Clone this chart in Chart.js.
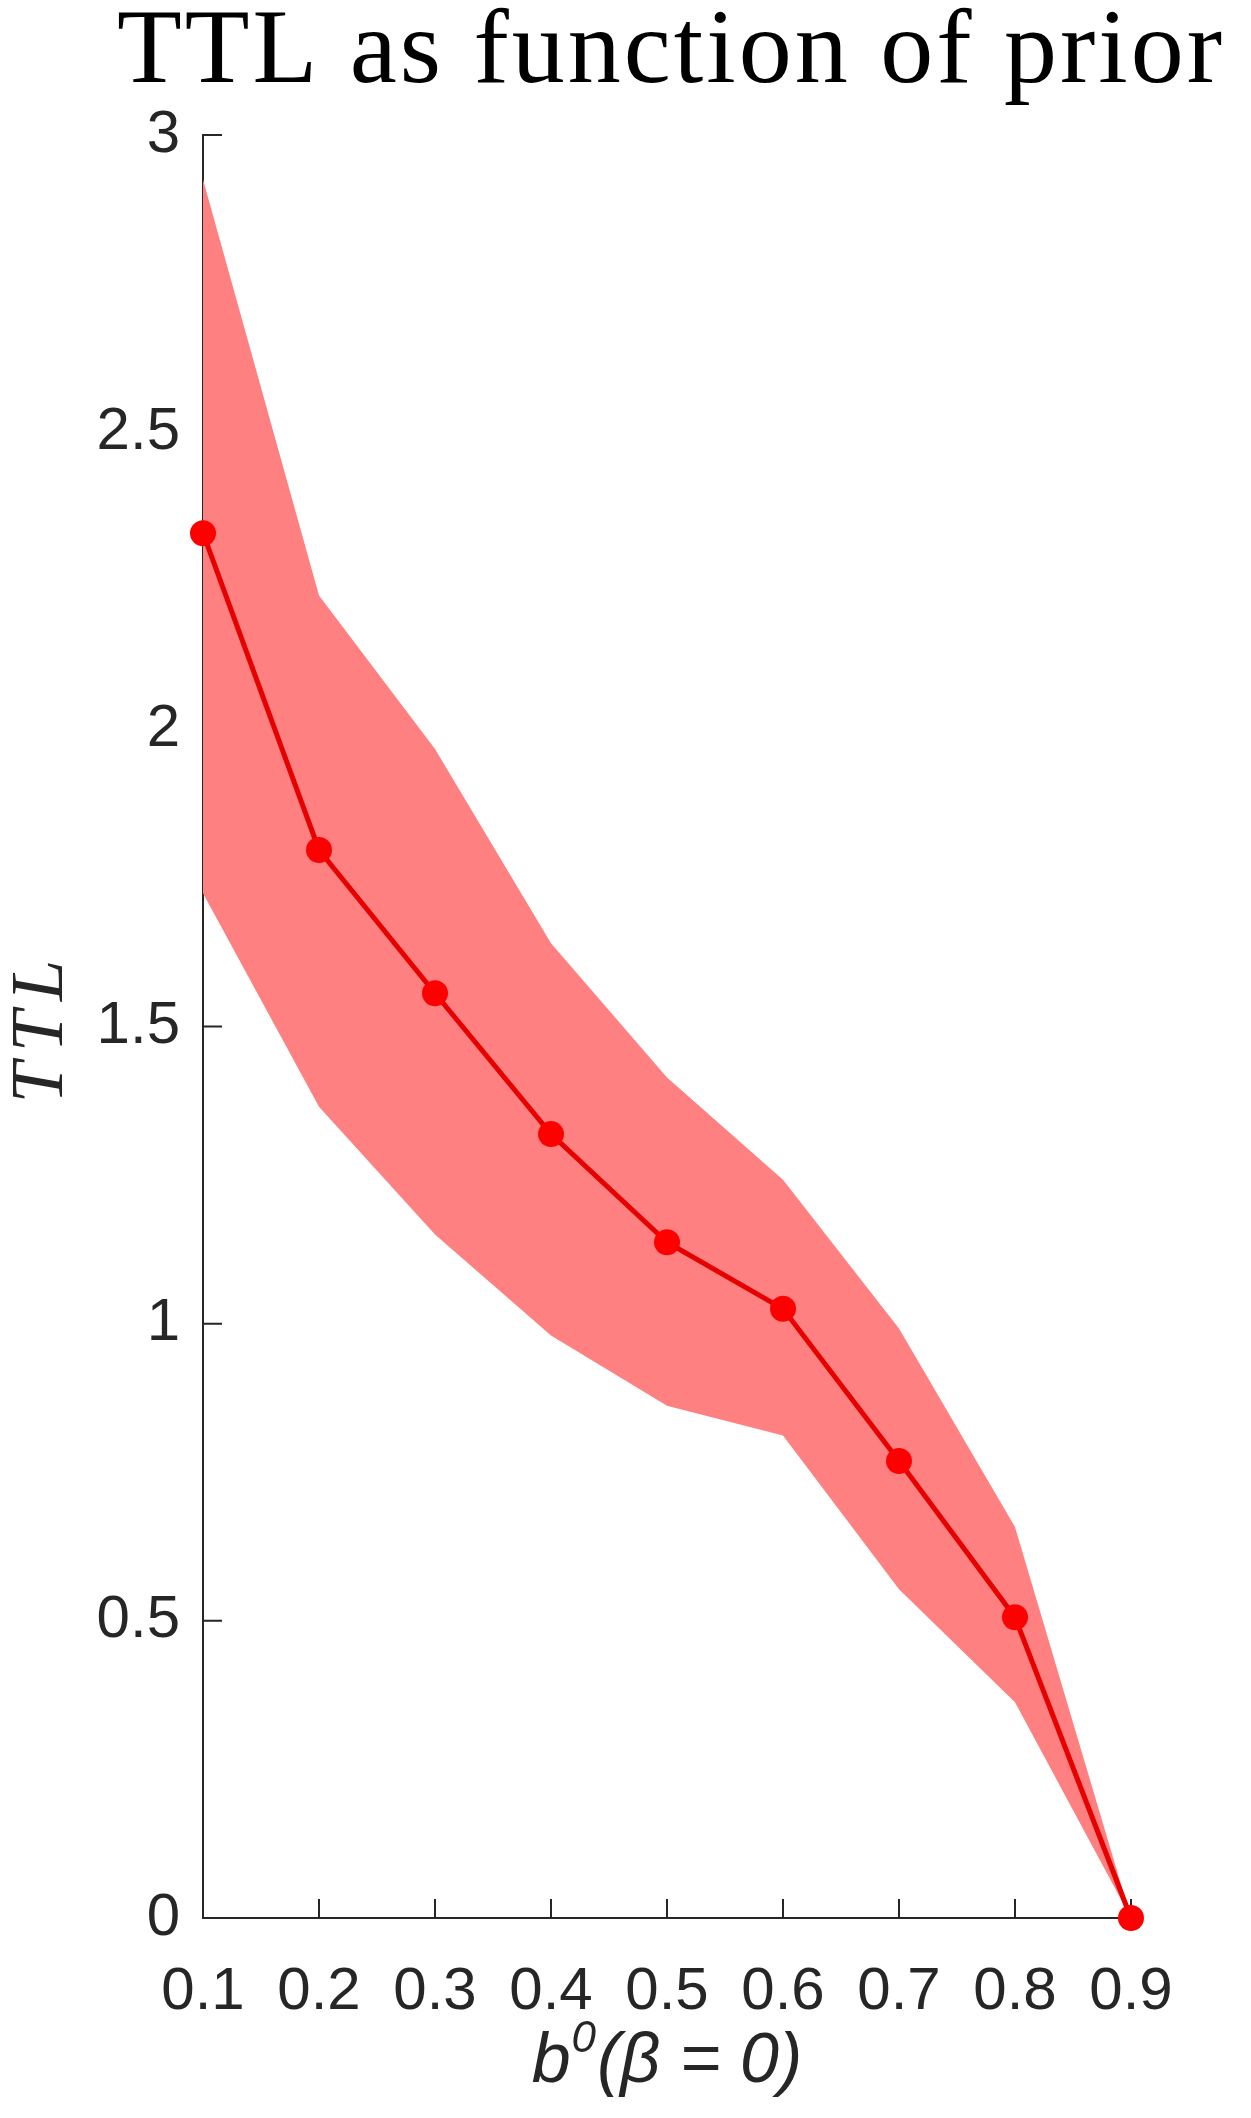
<!DOCTYPE html>
<html><head><meta charset="utf-8">
<style>html,body{margin:0;padding:0;background:#fff;}#wrap{width:1251px;height:2118px;}</style>
<script src="https://cdn.jsdelivr.net/npm/chart.js@4"></script>
</head><body><div id="wrap"><canvas id="c" width="1251" height="2118"></canvas></div>
<script>
const xValues = [0.1, 0.2, 0.3, 0.4, 0.5, 0.6, 0.7, 0.8, 0.9];
const meanTTL = [2.33, 1.797, 1.556, 1.319, 1.137, 1.025, 0.769, 0.506, 0];
const upperTTL = [2.925, 2.225, 1.967, 1.64, 1.414, 1.242, 0.992, 0.658, 0];
const lowerTTL = [1.724, 1.365, 1.15, 0.98, 0.862, 0.812, 0.553, 0.363, 0];
const titleText = "TTL as function of prior";
const yLabelText = "TTL";

const pts = arr => xValues.map((x, i) => ({x: x, y: arr[i]}));
const AX = '#262626';

const decor = {
  id: 'decor',
  beforeDatasetsDraw(chart) {
    const ctx = chart.ctx, xs = chart.scales.x, ys = chart.scales.y, a = chart.chartArea;
    ctx.save();
    ctx.strokeStyle = AX; ctx.lineWidth = 2;
    ctx.beginPath();
    xs.ticks.forEach(t => { const px = xs.getPixelForValue(t.value); ctx.moveTo(px, a.bottom); ctx.lineTo(px, a.bottom - 19); });
    ys.ticks.forEach(t => { const py = ys.getPixelForValue(t.value); ctx.moveTo(a.left, py); ctx.lineTo(a.left + 19, py); });
    ctx.stroke();
    ctx.restore();
  },
  afterDraw(chart) {
    const ctx = chart.ctx, a = chart.chartArea;
    const cx = (a.left + a.right) / 2, cy = (a.top + a.bottom) / 2;
    ctx.save();
    // title
    ctx.fillStyle = '#000';
    ctx.font = '106px "Liberation Serif"';
    ctx.letterSpacing = '3px';
    ctx.textAlign = 'center'; ctx.textBaseline = 'alphabetic';
    ctx.fillText(titleText, 671, 82);
    // y label
    ctx.fillStyle = AX;
    ctx.font = 'italic 74px "Liberation Serif"';
    ctx.letterSpacing = '10px';
    ctx.translate(62, cy); ctx.rotate(-Math.PI / 2);
    ctx.fillText(yLabelText, 0, 0);
    ctx.restore();
    // x label: b^0(β = 0)
    ctx.save();
    ctx.fillStyle = AX;
    ctx.textBaseline = 'alphabetic'; ctx.textAlign = 'left';
    const big = 'italic 70px "Liberation Sans"', small = 'italic 44px "Liberation Sans"';
    ctx.font = big; const w1 = ctx.measureText('b').width;
    ctx.font = small; const w2 = ctx.measureText('0').width;
    ctx.font = big; const w3 = ctx.measureText('(β = 0)').width;
    const total = w1 + w2 + 2 + w3;
    let x0 = cx - total / 2; const base = 2082;
    ctx.font = big; ctx.fillText('b', x0, base);
    ctx.font = small; ctx.fillText('0', x0 + w1 + 1, base - 30);
    ctx.font = big; ctx.fillText('(β = 0)', x0 + w1 + w2 + 2, base);
    ctx.restore();
  }
};

new Chart(document.getElementById('c'), {
  type: 'line',
  data: {
    datasets: [
      { data: pts(upperTTL), order: 2, borderWidth: 0, borderColor: 'rgba(0,0,0,0)', pointRadius: 0, fill: '+1', backgroundColor: 'rgb(255,128,128)', tension: 0 },
      { data: pts(lowerTTL), order: 2, borderWidth: 0, borderColor: 'rgba(0,0,0,0)', pointRadius: 0, fill: false, tension: 0 },
      { data: pts(meanTTL), order: 0, borderWidth: 5, borderColor: '#e60000', pointRadius: 13, pointBackgroundColor: '#ff0000', pointBorderColor: '#ff0000', pointBorderWidth: 0, fill: false, tension: 0, clip: false }
    ]
  },
  options: {
    responsive: false, animation: false,
    layout: { padding: { left: 0, right: 120, top: 135, bottom: 0 } },
    plugins: { legend: { display: false }, tooltip: { enabled: false } },
    scales: {
      x: {
        type: 'linear', min: 0.1, max: 0.9,
        afterFit: s => { s.height = 200; },
        grid: { display: false, drawTicks: false },
        border: { display: true, color: AX, width: 2 },
        ticks: { stepSize: 0.1, padding: 38, color: AX, font: { family: 'Liberation Sans', size: 60 }, maxRotation: 0, autoSkip: false,
                 callback: v => Number(v).toFixed(1) }
      },
      y: {
        min: 0, max: 3,
        afterFit: s => { s.width = 203; },
        grid: { display: false, drawTicks: false },
        border: { display: true, color: AX, width: 2 },
        ticks: { stepSize: 0.5, padding: 23, color: AX, font: { family: 'Liberation Sans', size: 60 },
                 callback: v => (Math.round(v * 10) / 10).toString() }
      }
    }
  },
  plugins: [decor]
});
</script></body></html>
